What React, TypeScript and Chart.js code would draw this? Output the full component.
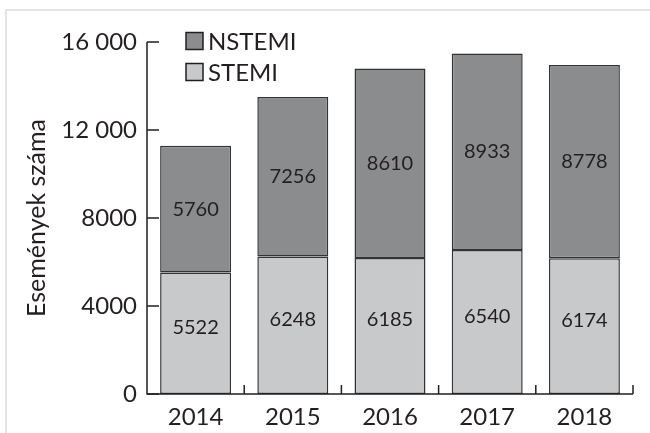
import React, { useEffect, useRef } from "react";
import { Chart, registerables } from "chart.js";
Chart.register(...registerables);

const years = ["2014", "2015", "2016", "2017", "2018"];
const stemi = [5522, 6248, 6185, 6540, 6174];
const nstemi = [5760, 7256, 8610, 8933, 8778];
const yTicks = [0, 4000, 8000, 12000, 16000];
const yTickLabels = ["0", "4000", "8000", "12 000", "16 000"];
const seriesNames = ["STEMI", "NSTEMI"];
const yTitle = "Események száma";

const FONT = "Lato, 'Open Sans', sans-serif";
const INK = "#231f20";
const DARK = "#8b8c8e";
const LIGHT = "#c8c9cb";

const customPlugin = {
  id: "custom",
  beforeDraw(chart: any) {
    const ctx = chart.ctx;
    ctx.save();
    ctx.strokeStyle = "#dddddd";
    ctx.lineWidth = 1.5;
    ctx.beginPath();
    ctx.moveTo(6, 433);
    ctx.lineTo(6, 10);
    ctx.lineTo(650, 10);
    ctx.stroke();
    ctx.restore();
  },
  afterDatasetsDraw(chart: any) {
    const ctx = chart.ctx;
    const ca = chart.chartArea;
    const y = chart.scales.y;
    ctx.save();
    // axes
    ctx.strokeStyle = INK;
    ctx.lineWidth = 1.5;
    ctx.beginPath();
    ctx.moveTo(ca.left, y.getPixelForValue(16000));
    ctx.lineTo(ca.left, ca.bottom);
    ctx.lineTo(ca.right, ca.bottom);
    ctx.stroke();
    // y ticks (inward)
    ctx.beginPath();
    yTicks.forEach((v) => {
      const py = y.getPixelForValue(v);
      ctx.moveTo(ca.left, py);
      ctx.lineTo(ca.left + 12, py);
    });
    // x ticks at category boundaries (upward)
    const w = (ca.right - ca.left) / years.length;
    for (let i = 1; i <= years.length; i++) {
      const px = ca.left + i * w;
      ctx.moveTo(px, ca.bottom);
      ctx.lineTo(px, ca.bottom - 9);
    }
    ctx.stroke();

    // value labels
    ctx.fillStyle = INK;
    ctx.font = `20px ${FONT}`;
    ctx.textAlign = "center";
    ctx.textBaseline = "middle";
    chart.data.datasets.forEach((ds: any, di: number) => {
      const meta = chart.getDatasetMeta(di);
      meta.data.forEach((el: any, i: number) => {
        const cy = (el.y + el.base) / 2 + (di === 0 ? -6 : 0);
        ctx.fillText(String(ds.data[i]), el.x, cy);
      });
    });

    // legend
    const items = [
      { label: seriesNames[1], color: DARK, y: 41 },
      { label: seriesNames[0], color: LIGHT, y: 72 },
    ];
    ctx.font = `24px ${FONT}`;
    ctx.textAlign = "left";
    items.forEach((it) => {
      ctx.fillStyle = it.color;
      ctx.fillRect(186, it.y - 8.5, 17, 17);
      ctx.strokeStyle = INK;
      ctx.lineWidth = 1.5;
      ctx.strokeRect(186, it.y - 8.5, 17, 17);
      ctx.fillStyle = INK;
      ctx.fillText(it.label, 208, it.y + 1);
    });
    ctx.restore();
  },
};

export default function App() {
  const ref = useRef<HTMLCanvasElement>(null);
  useEffect(() => {
    if (!ref.current) return;
    const chart = new Chart(ref.current, {
      type: "bar",
      data: {
        labels: years,
        datasets: [
          {
            label: seriesNames[0],
            data: stemi,
            backgroundColor: LIGHT,
            borderColor: "#333333",
            borderWidth: 1.5,
            borderSkipped: false,
            barPercentage: 0.73,
            categoryPercentage: 1,
          },
          {
            label: seriesNames[1],
            data: nstemi,
            backgroundColor: DARK,
            borderColor: "#333333",
            borderWidth: 1.5,
            borderSkipped: false,
            barPercentage: 0.73,
            categoryPercentage: 1,
          },
        ],
      },
      options: {
        animation: false,
        responsive: true,
        maintainAspectRatio: false,
        layout: { padding: { top: 42, right: 17, left: 0, bottom: 0 } },
        plugins: { legend: { display: false }, tooltip: { enabled: false } },
        scales: {
          x: {
            stacked: true,
            grid: { display: false, drawTicks: false, tickLength: 0 },
            border: { display: false },
            ticks: { color: INK, font: { family: FONT, size: 24 }, padding: 9 },
            afterFit: (s: any) => {
              s.height = 39;
            },
          },
          y: {
            stacked: true,
            min: 0,
            max: 16000,
            grid: { display: false, drawTicks: false, tickLength: 0 },
            border: { display: false },
            afterBuildTicks: (s: any) => {
              s.ticks = yTicks.map((v) => ({ value: v }));
            },
            ticks: {
              color: INK,
              font: { family: FONT, size: 24 },
              padding: 10,
              callback: (v: any) => {
                const i = yTicks.indexOf(Number(v));
                return i >= 0 ? yTickLabels[i] : "";
              },
            },
            title: {
              display: true,
              text: yTitle,
              color: INK,
              font: { family: FONT, size: 25 },
              padding: { top: 22, bottom: 0 },
            },
            afterFit: (s: any) => {
              s.width = 147;
            },
          },
        },
      },
      plugins: [customPlugin],
    });
    return () => chart.destroy();
  }, []);
  return (
    <div style={{ position: "fixed", left: 0, top: 0, width: 650, height: 433 }}>
      <canvas ref={ref} />
    </div>
  );
}
